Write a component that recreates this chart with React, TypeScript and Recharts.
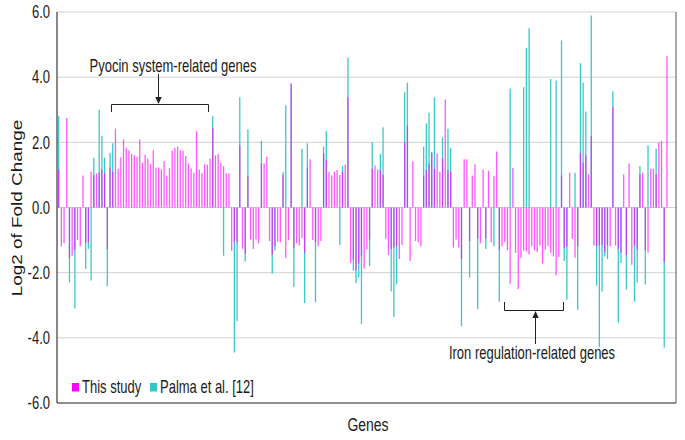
import React from 'react';
import { BarChart, Bar, XAxis, YAxis, CartesianGrid } from 'recharts';

// log2 fold change per gene (null = not reported)
const thisStudy: (number | null)[] = [
  1.17, -1.19, -1.1, 2.75, -1.55, -1.48, -1.3, -1.0, -1.19, 0.98,
  -1.09, -1.07, 1.1, 1.0, 1.05, 1.07, 1.17, 1.05, -1.27, 1.23,
  1.1, 2.42, 1.19, 1.54, 2.09, 1.83, 1.76, 1.64, 1.6, 1.55,
  2.09, 1.37, 1.62, 1.5, 1.33, 1.76, 1.23, 1.23, 1.17, 1.42,
  0.98, 1.21, 1.74, 1.83, 1.87, 1.76, 1.74, 1.58, 1.35, 1.2,
  1.07, 2.34, 1.17, 1.05, 1.33, 1.31, 1.5, 2.44, 1.6, 1.64,
  1.37, 1.27, 1.05, 1.05, -1.33, -1.07, -1.07, 1.9, -1.27, -1.42,
  0.98, -0.98, -1.27, -0.98, -1.1, 1.35, 1.35, 1.56, -1.03, -1.46,
  -1.19, -1.05, -1.07, 1.0, -1.56, -1.0, 3.82, -1.25, -1.1, -1.17,
  -0.94, -1.39, 1.23, 1.48, -1.0, -1.07, -1.19, -1.03, 1.66, 1.46,
  1.09, 0.98, 1.1, 1.15, 1.0, 1.1, 1.31, 3.38, -1.7, -1.6,
  -1.93, -1.72, -1.5, -1.87, -1.29, -0.98, 1.19, 1.29, 1.17,
  1.15, 1.0, -0.96, -1.46, -1.27, -1.23, -1.19, -1.58, -1.15, 2.0,
  2.52, -1.64, 1.42, -1.03, -1.07, -1.19, 0.98, 1.15, 1.35, 1.66,
  1.19, 1.66, 1.1, 1.5, 3.32, 1.15, 1.1, -1.23, -0.98, -1.23,
  -1.58, 1.48, 1.48, -1.03, 0.98, 1.33, -0.96, -1.1, 1.17, -0.96,
  1.13, -1.07, 0.96, 1.72, -1.31, -1.19, -1.07, -1.31, -2.34,
  1.21, -1.39, -2.5, -1.56, -1.33, -1.35, -1.44, -1.19, -1.31,
  -1.37, -1.17, -1.72, -1.29, -1.19, -1.39, -1.5, -2.09, -1.52,
  0.98, -1.25, -1.2, 1.07, -0.96, -1.54, -1.19, 1.68, 1.37, 1.6,
  1.02, 2.19, -1.17, -1.19, -1.15, -1.15, -1.37, -1.15, -1.19,
  3.08, -1.17, -1.27, -1.39, 1.02, -1.46, 1.35, -1.76, -1.17,
  -1.29, 1.02, 1.07, -1.31, -1.39, 1.19, 1.19, 1.02, 2.0, 2.05, -1.68, 4.64,
];

const palma: (number | null)[] = [
  2.8, null, null, null, -2.3, null, -3.1, null, null, null,
  -1.89, -1.27, -2.24, 1.53, null, 3.0, 2.2, 1.53, -2.42, 1.68,
  1.97, null, null, null, null, null, null, null, null, null,
  null, null, null, null, null, null, null, null, null, null,
  null, null, null, null, null, null, null, null, null, null,
  null, null, null, null, null, null, null, 2.8, null, null,
  null, -1.48, null, null, null, -4.45, -3.49, 3.38, null, -1.66,
  2.4, null, null, null, null, 2.05, null, null, null, -2.03,
  -1.31, null, null, 1.09, 3.14, null, 3.77, -2.44, null, null,
  1.8, -2.93, 1.97, null, null, -2.91, null, null, 1.87, 2.34,
  null, null, null, null, -1.15, 1.27, null, 4.6, null, -1.93,
  -2.32, -2.15, -3.57, null, null, -1.8, 2.0, null, null,
  1.64, 2.46, null, null, -2.58, -3.36, -2.36, null, null, 3.54,
  3.83, null, null, null, null, null, 1.87, 2.58, 2.91, 1.7,
  3.38, null, null, 2.15, null, 2.42, 1.83, null, null, null,
  -3.65, null, null, -2.15, null, null, -3.12, null, null, -1.27,
  null, null, -1.19, null, -2.89, null, null, null, 3.65,
  null, null, null, null, 3.69, 4.9, 5.5, null, null,
  null, null, null, null, null, 3.94, null, 3.9, null,
  5.13, -1.64, -2.83, null, null, 1.07, -3.14, 4.43, 3.84, 2.95,
  null, 5.89, null, -2.4, -4.27, -2.58, -1.5, -1.58, null,
  3.57, null, -3.53, -1.7, null, -2.52, null, null, -2.89,
  -2.3, 1.27, null, -2.36, 1.9, null, null, 1.8, null, null, -4.3, null,
];

const yTicks = [-6, -4, -2, 0, 2, 4, 6];

const data = thisStudy.map((v, i) => ({ gene: i + 1, thisStudy: v, palma: palma[i] }));

const FONT = '"Liberation Sans", Arial, sans-serif';
const STRETCH = 1.35; // the figure's text is stretched vertically

const SText = ({ x, y, size = 13, anchor = 'middle', rotate = false, children }: any) => (
  <text
    transform={`translate(${x},${y}) scale(1,${STRETCH})${rotate ? ' rotate(-90)' : ''}`}
    textAnchor={anchor}
    dominantBaseline="central"
    fontSize={size}
    fontFamily={FONT}
    fill="#1a1a1a"
  >
    {children}
  </text>
);

const YTick = ({ y, payload }: any) => (
  <SText x={50} y={y} anchor="end">{Number(payload.value).toFixed(1)}</SText>
);

const Overlay = () => (
  <svg width={685} height={440} style={{ position: 'absolute', left: 0, top: 0, pointerEvents: 'none' }}>
    <SText x={17} y={208} size={14} rotate>Log2 of Fold Change</SText>
    <SText x={368} y={425} size={14}>Genes</SText>

    {/* pyocin annotation */}
    <SText x={173} y={66}>Pyocin system-related genes</SText>
    <path d="M111.5,112 V104.5 H208.5 V112" fill="none" stroke="#222" strokeWidth={1} />
    <line x1={158.5} y1={74} x2={158.5} y2={98} stroke="#222" strokeWidth={1} />
    <polygon points="155.3,97 161.7,97 158.5,104" fill="#222" />

    {/* iron annotation */}
    <SText x={532} y={353}>Iron regulation-related genes</SText>
    <path d="M504.5,302 V310.5 H563.5 V302" fill="none" stroke="#222" strokeWidth={1} />
    <line x1={535.5} y1={317} x2={535.5} y2={344} stroke="#222" strokeWidth={1} />
    <polygon points="532.3,318 538.7,318 535.5,311" fill="#222" />

    {/* legend */}
    <rect x={72} y={383} width={7} height={8.5} fill="#ff00ff" />
    <SText x={82} y={387} anchor="start">This study</SText>
    <rect x={150} y={383} width={7} height={8.5} fill="#33c6c6" />
    <SText x={160} y={387} anchor="start">Palma et al. [12]</SText>
  </svg>
);

export default function App() {
  return (
    <div style={{ position: 'absolute', left: 0, top: 0, width: 685, height: 440, background: '#fff' }}>
      <BarChart
        width={685}
        height={440}
        data={data}
        margin={{ top: 12, right: 0, left: 0, bottom: 0 }}
        barGap={-1.3}
        barSize={1.3}
      >
        <CartesianGrid vertical={false} stroke="#d2d2d2" />
        <XAxis
          dataKey="gene"
          height={37}
          tick={false}
          tickLine={false}
          axisLine={{ stroke: '#333' }}
          padding={{ left: 0, right: 8 }}
        />
        <XAxis
          xAxisId="top"
          orientation="top"
          dataKey="gene"
          height={0}
          tick={false}
          tickLine={false}
          axisLine={{ stroke: '#555' }}
        />
        <YAxis
          domain={[-6, 6]}
          ticks={yTicks}
          interval={0}
          width={57}
          tickLine={false}
          axisLine={{ stroke: '#111' }}
          tick={<YTick />}
        />
        <YAxis
          yAxisId="right"
          orientation="right"
          domain={[-6, 6]}
          width={9}
          tick={false}
          tickLine={false}
          axisLine={{ stroke: '#555' }}
        />
        <Bar dataKey="palma" fill="#3cc8c8" isAnimationActive={false} />
        <Bar dataKey="thisStudy" fill="#ff00ff" fillOpacity={0.66} isAnimationActive={false} />
      </BarChart>
      <Overlay />
    </div>
  );
}
